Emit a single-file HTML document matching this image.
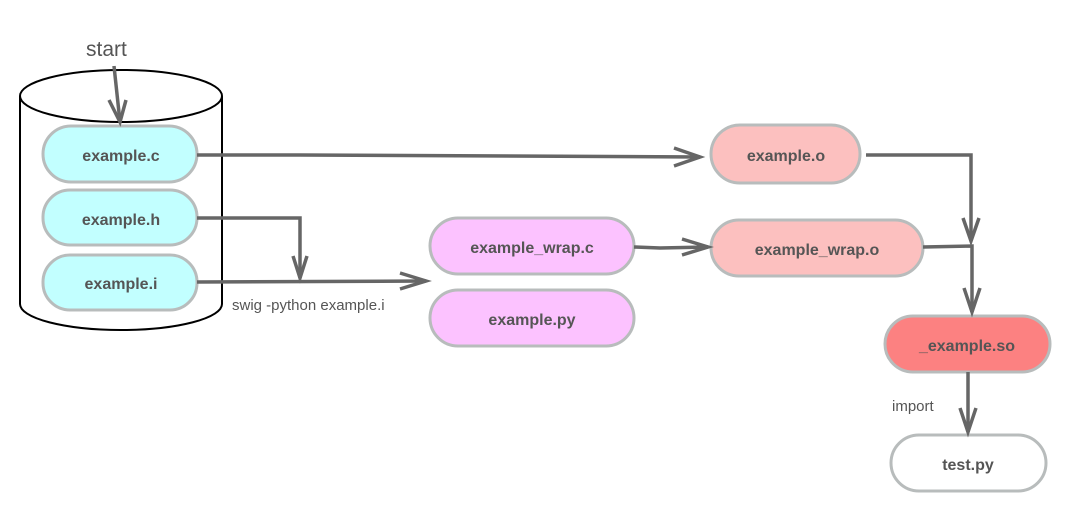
<!DOCTYPE html>
<html><head><style>body{margin:0;background:#fff}</style></head><body>
<svg width="1066" height="514" xmlns="http://www.w3.org/2000/svg" font-family="Liberation Sans, sans-serif">
<path d="M20,96 L20,304 A101,26 0 0 0 222,304 L222,96" fill="#fff" stroke="#000" stroke-width="2"/>
<ellipse cx="121" cy="96" rx="101" ry="26" fill="#fff" stroke="#000" stroke-width="2"/>
<g stroke="#b8bcbc" stroke-width="3">
<rect x="43" y="126" width="154" height="56" rx="28" fill="#c2ffff"/>
<rect x="43" y="190" width="154" height="55" rx="27" fill="#c2ffff"/>
<rect x="43" y="255" width="154" height="55" rx="27" fill="#c2ffff"/>
<rect x="430" y="218" width="204" height="56" rx="28" fill="#fcc2ff"/>
<rect x="430" y="290" width="204" height="56" rx="28" fill="#fcc2ff"/>
<rect x="711" y="125" width="149" height="58" rx="29" fill="#fcc0bf"/>
<rect x="711" y="220" width="212" height="56" rx="28" fill="#fcc0bf"/>
<rect x="885" y="316" width="165" height="56" rx="28" fill="#fc8181"/>
<rect x="891" y="435" width="155" height="56" rx="28" fill="#fff"/>
</g>
<g font-weight="bold" font-size="16" fill="#555" text-anchor="middle">
<text x="121" y="161">example.c</text>
<text x="121" y="225">example.h</text>
<text x="121" y="289">example.i</text>
<text x="532" y="253">example_wrap.c</text>
<text x="532" y="325">example.py</text>
<text x="786" y="161">example.o</text>
<text x="817" y="255">example_wrap.o</text>
<text x="967" y="351">_example.so</text>
<text x="968" y="470">test.py</text>
</g>
<g font-size="15" fill="#555">
<text x="86" y="56" font-size="21">start</text>
<text x="232" y="310">swig -python example.i</text>
<text x="892" y="411">import</text>
</g>
<g stroke="#666" stroke-width="3.5" fill="none" stroke-linejoin="miter">
<path d="M114,66 L120,122"/><path d="M109,100 L120,122 L126,100"/>
<path d="M197,155 L300,155 L700,157"/><path d="M674,148 L700,157 L674,166"/>
<path d="M197,218 L300,218 L300,278"/><path d="M293,256 L300,278 L307,256"/>
<path d="M197,282 L426,281"/><path d="M400,273 L426,281 L400,289"/>
<path d="M634,247 L660,248 L708,247"/><path d="M682,239 L708,247 L682,255"/>
<path d="M866,155 L971,155 L971,241"/><path d="M963,218 L971,241 L979,218"/>
<path d="M923,247 L972,246 L972,312"/><path d="M964,288 L972,312 L980,288"/>
<path d="M968,372 L968,432"/><path d="M960,408 L968,432 L976,408"/>
</g>
</svg>
</body></html>
